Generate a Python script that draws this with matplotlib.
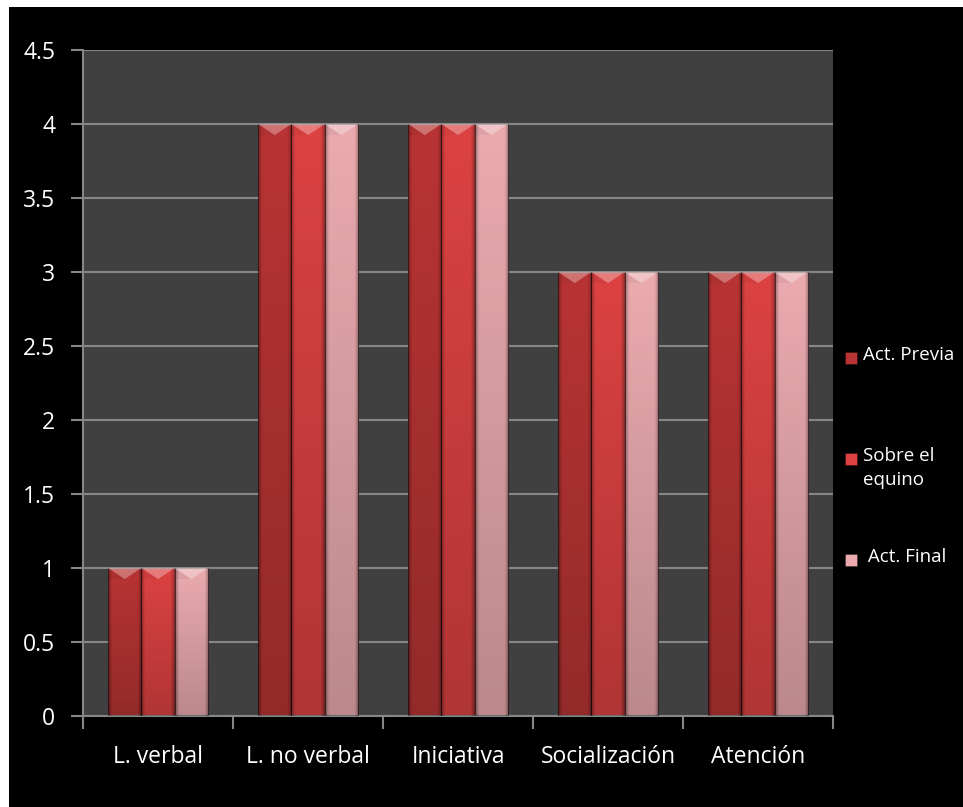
import numpy as np
import matplotlib.pyplot as plt
from matplotlib.patches import Rectangle, Polygon

# Puntuaciones por área y momento de la sesión
categorias = ['L. verbal', 'L. no verbal', 'Iniciativa', 'Socialización', 'Atención']
act_previa = [1, 4, 4, 3, 3]
sobre_equino = [1, 4, 4, 3, 3]
act_final = [1, 4, 4, 3, 3]

series = ['Act. Previa', 'Sobre el\nequino', ' Act. Final']
colores = ['#b83434', '#dc4242', '#eaaaae']
yticks = [0, 0.5, 1, 1.5, 2, 2.5, 3, 3.5, 4, 4.5]

plt.rcParams['font.family'] = ['Open Sans', 'DejaVu Sans']

W, H = 963, 807
fig = plt.figure(figsize=(W / 100, H / 100), dpi=100, facecolor='white')
# fondo negro del gráfico (deja un borde blanco arriba y a la izquierda)
fig.patches.append(Rectangle((9 / W, 0), 1, 1 - 7 / H, transform=fig.transFigure,
                             facecolor='black', edgecolor='none', zorder=-5))

ax = fig.add_axes([83 / W, (H - 716) / H, (833 - 83) / W, (716 - 50) / H])
ax.set_facecolor('#404040')

x = np.arange(len(categorias))
ancho = 0.222
datos = [act_previa, sobre_equino, act_final]


def sombrear(ax, rect):
    """Da el aspecto biselado a cada barra."""
    x0, w, h = rect.get_x(), rect.get_width(), rect.get_height()
    if h <= 0:
        return
    nx, ny = 60, 100
    u = np.linspace(0, 1, nx)
    v = np.linspace(0, 1, ny)[:, None]
    borde = np.clip(1 - np.minimum(u, 1 - u) / 0.12, 0, 1) * 0.30
    alpha = np.clip(borde[None, :] + 0.20 * v, 0, 0.6)
    img = np.zeros((ny, nx, 4))
    img[..., 3] = alpha
    # fila 0 arriba de la barra, más oscuro hacia la base
    im = ax.imshow(img, extent=(x0, x0 + w, 0, h), origin='upper', aspect='auto',
                   zorder=3, interpolation='bilinear')
    im.set_clip_path(rect)
    d = 0.075
    ax.add_patch(Polygon([(x0, h), (x0 + w, h), (x0 + w / 2, h - d)], closed=True,
                         facecolor='white', alpha=0.30, edgecolor='none', zorder=4))
    ax.add_patch(Polygon([(x0, h), (x0 + w / 2, h - d), (x0, h - d)], closed=True,
                         facecolor='black', alpha=0.05, edgecolor='none', zorder=4))
    ax.plot([x0, x0 + w], [h, h], color='white', alpha=0.3, lw=1, zorder=4,
            solid_capstyle='butt')


for i, (vals, col, nom) in enumerate(zip(datos, colores, series)):
    barras = ax.bar(x + (i - 1) * ancho, vals, ancho, color=col,
                    edgecolor=(0.2, 0.05, 0.05, 0.5), linewidth=0.8, zorder=2, label=nom)
    for r in barras:
        sombrear(ax, r)

ax.set_xlim(-0.5, len(categorias) - 0.5)
ax.set_ylim(0, 4.5)
ax.set_yticks(yticks)
ax.set_yticklabels([f'{t:g}' for t in yticks])
ax.yaxis.grid(True, color='#868686', linewidth=1.5, zorder=1)
ax.set_axisbelow(True)

ax.set_xticks(np.arange(len(categorias) + 1) - 0.5)
ax.set_xticklabels([])
ax.set_xticks(x, minor=True)
ax.set_xticklabels(categorias, minor=True)
ax.tick_params(axis='x', which='minor', length=0, pad=21, labelsize=16.5, labelcolor='white')
ax.tick_params(axis='x', which='major', length=9, width=1.5, color='#868686')
ax.tick_params(axis='y', length=9, width=1.5, color='#868686', pad=11,
               labelsize=16.5, labelcolor='white')

for lado in ['top', 'right']:
    ax.spines[lado].set_visible(False)
for lado in ['left', 'bottom']:
    ax.spines[lado].set_color('#868686')
    ax.spines[lado].set_linewidth(1.5)

# leyenda a la derecha del área de trazado
leyenda_y = [358, 459, 560]
leyenda_tx = [863, 863, 863]
for col, nom, yy, tx in zip(colores, series, leyenda_y, leyenda_tx):
    fig.patches.append(Rectangle((845 / W, 1 - (yy + 6) / H), 12 / W, 12 / H,
                                 transform=fig.transFigure, facecolor=col,
                                 edgecolor=(0, 0, 0, 0.4), linewidth=0.5, zorder=3))
    fig.text(tx / W, 1 - (yy - 12) / H, nom, color='white', fontsize=13.5,
             ha='left', va='top', linespacing=1.4)

fig.savefig('out.png', dpi=100, facecolor=fig.get_facecolor())
